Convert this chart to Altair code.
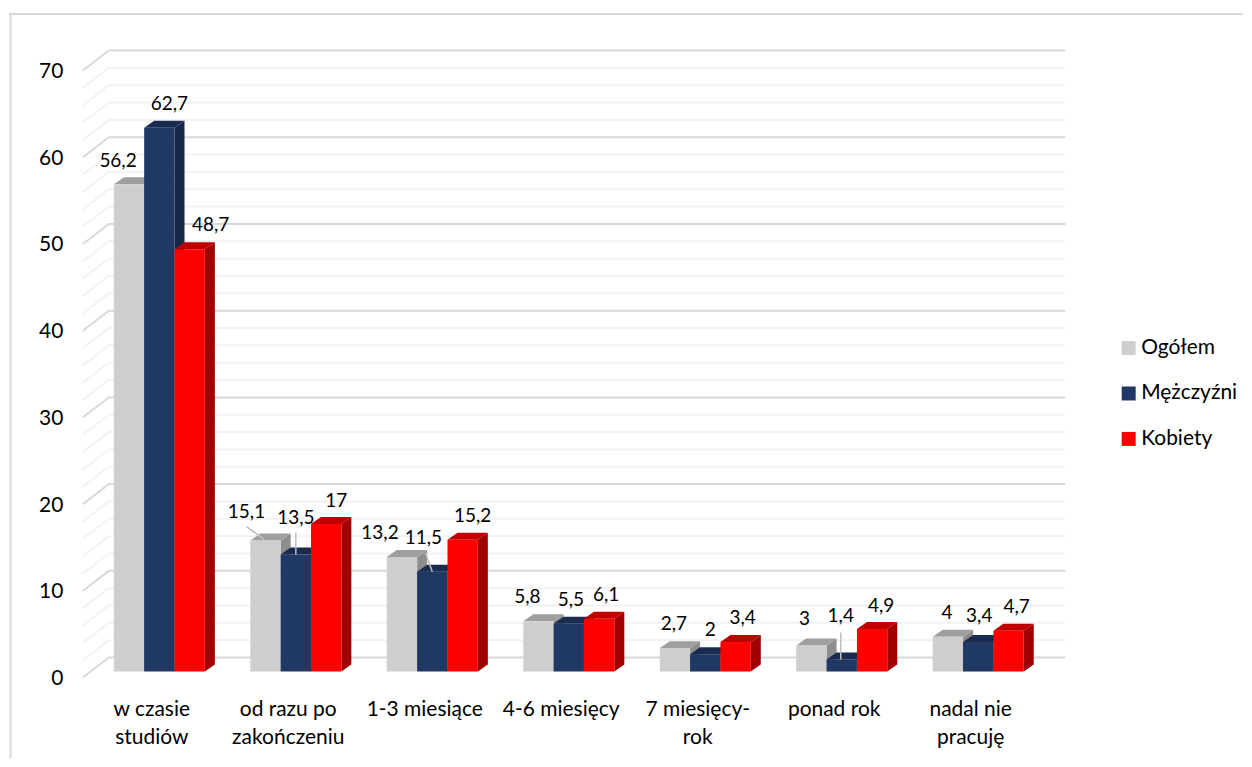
import altair as alt
import pandas as pd

# ---- data ----
categories = ["w czasie\nstudiów", "od razu po\nzakończeniu", "1-3 miesiące", "4-6 miesięcy",
              "7 miesięcy-\nrok", "ponad rok", "nadal nie\npracuję"]
series_names = ["Ogółem", "Mężczyźni", "Kobiety"]
ogolem = [56.2, 15.1, 13.2, 5.8, 2.7, 3, 4]
mezczyzni = [62.7, 13.5, 11.5, 5.5, 2, 1.4, 3.4]
kobiety = [48.7, 17, 15.2, 6.1, 3.4, 4.9, 4.7]
y_ticks = [0, 10, 20, 30, 40, 50, 60, 70]
series_values = [ogolem, mezczyzni, kobiety]

# ---- styling ----
FRONT = ["#CFCDCE", "#1F3864", "#FF0000"]
TOP = ["#A09F9F", "#192C50", "#C00000"]
SIDE = ["#8F8E8E", "#16284A", "#A00000"]
FONT = "Lato"
FS = 21

# ---- scale geometry (pixels per data unit, oblique projection) ----
W, H = 1236, 751
PXX, PXY = 136.7, 8.686          # px per category slot / per value unit
X0_PAGE, Y0_VIEW = 91, 670       # where slot 0 and value 0 fall
x_dom = [(8 - X0_PAGE) / PXX, (8 + W - X0_PAGE) / PXX]
y_dom = [(Y0_VIEW - H) / PXY, Y0_VIEW / PXY]
ux = lambda px: px / PXX
uy = lambda px: px / PXY

BAR_W = ux(30.4)
GROUP_PAD = ux(22)
BASE = uy(6)
DEPTH_X, DEPTH_Y = ux(10), uy(7)
WALL_X, WALL_Y = ux(26), uy(20)
GRID_L = ux(82 - X0_PAGE)
GRID_R = ux(1066 - X0_PAGE)

xs = alt.Scale(domain=x_dom, nice=False, zero=False)
ys = alt.Scale(domain=y_dom, nice=False, zero=False)
y_axis = alt.Axis(values=y_ticks, grid=False, domain=False, ticks=False, title=None, labelFont=FONT,
                  labelFontSize=FS, labelColor="#000000", labelPadding=4, offset=-58, labelOffset=1)
X = lambda f: alt.X(f"{f}:Q", scale=xs, axis=None)
Y = lambda f: alt.Y(f"{f}:Q", scale=ys, axis=y_axis, stack=None)

layers = []

# frame
frame_df = pd.DataFrame({"a": [0]})
layers.append(alt.Chart(frame_df).mark_rule(color="#D9D9D9", strokeWidth=2).encode(
    x=alt.value(0), x2=alt.value(W), y=alt.value(5.3)))
layers.append(alt.Chart(frame_df).mark_rule(color="#D9D9D9", strokeWidth=2).encode(
    x=alt.value(1.5), y=alt.value(5), y2=alt.value(H)))

# wall gridlines with the slanted return
grid_rows = []
for k in range(0, 36):
    v = k * 2
    major = v % 10 == 0
    for xx, vv in [(GRID_L, v), (GRID_L + WALL_X, v + WALL_Y), (GRID_R, v + WALL_Y)]:
        grid_rows.append({"x": xx, "y": vv, "tick": v, "major": major})
grid = pd.DataFrame(grid_rows)
layers.append(alt.Chart(grid[~grid.major]).mark_line(color="#F2F2F2", strokeWidth=2).encode(
    x=X("x"), y=Y("y"), detail="tick:N", order="x:Q"))
layers.append(alt.Chart(grid[grid.major]).mark_line(color="#D9D9D9", strokeWidth=2).encode(
    x=X("x"), y=Y("y"), detail="tick:N", order="x:Q"))


def left(i, j):
    return i + GROUP_PAD + j * BAR_W


for j, (name, vals) in enumerate(zip(series_names, series_values)):
    side_rows, top_rows, front_rows = [], [], []
    for i, v in enumerate(vals):
        x0 = left(i, j)
        x1 = x0 + BAR_W
        t = v + BASE
        side_rows += [{"x": x1, "lo": BASE, "hi": t, "g": i},
                      {"x": x1 + DEPTH_X, "lo": BASE + DEPTH_Y, "hi": t + DEPTH_Y, "g": i}]
        top_rows += [{"x": x0, "lo": t, "hi": t, "g": i},
                     {"x": x0 + DEPTH_X, "lo": t, "hi": t + DEPTH_Y, "g": i},
                     {"x": x1, "lo": t, "hi": t + DEPTH_Y, "g": i},
                     {"x": x1 + DEPTH_X, "lo": t + DEPTH_Y, "hi": t + DEPTH_Y, "g": i}]
        front_rows.append({"x0": x0, "x1": x1, "lo": BASE, "hi": t, "series": name})
    for rows, col in ((side_rows, SIDE[j]), (top_rows, TOP[j])):
        layers.append(alt.Chart(pd.DataFrame(rows)).mark_area(color=col, orient="vertical", opacity=1).encode(
            x=X("x"), y=Y("lo"), y2="hi:Q", detail="g:N"))
    layers.append(alt.Chart(pd.DataFrame(front_rows)).mark_rect().encode(
        x=X("x0"), x2="x1:Q", y=Y("lo"), y2="hi:Q",
        color=alt.Color("series:N", scale=alt.Scale(domain=series_names, range=FRONT),
                        legend=alt.Legend(title=None, orient="none", legendX=1111, legendY=329.5,
                                          symbolType="square", symbolSize=196, symbolStrokeWidth=0,
                                          symbolOpacity=1, labelFont=FONT, labelFontSize=FS, labelColor="#000000",
                                          rowPadding=23.5, labelOffset=2))))

# label placement relative to each bar's top-centre, in px (x, y up negative)
label_nudge = [
    [(-11, -23), (-19, -29), (-22, -24), (-11, -24), (-1, -24), (-7, -27), (-1, -24)],
    [(10, -24), (0, -37), (-9, -34), (2, -24), (5, -24), (-1, -43), (1, -26)],
    [(21, -24), (10, -23), (10, -24), (7, -24), (7, -24), (9, -23), (8, -24)],
]
label_rows = []
for j, vals in enumerate(series_values):
    for i, v in enumerate(vals):
        dx, dy = label_nudge[j][i]
        label_rows.append({"x": left(i, j) + BAR_W / 2 + ux(dx), "y": v + BASE - uy(dy),
                           "t": str(v).replace(".", ",")})

# leader lines
leaders = [(1, 0, -19, -14, -1, -1), (1, 1, 0, -22, 0, 0), (2, 1, -7, -19, 0, 0), (5, 1, -1, -27, -1, 0)]
lead_rows = []
for n, (i, j, a, b, c, d) in enumerate(leaders):
    v = series_values[j][i] + BASE
    cx = left(i, j) + BAR_W / 2
    lead_rows.append({"x": cx + ux(a), "y": v - uy(b), "x2": cx + ux(c), "y2": v - uy(d)})
layers.append(alt.Chart(pd.DataFrame(lead_rows)).mark_rule(color="#BFBFBF", strokeWidth=1.5).encode(
    x=X("x"), x2="x2:Q", y=Y("y"), y2="y2:Q"))

layers.append(alt.Chart(pd.DataFrame(label_rows)).mark_text(
    font=FONT, fontSize=FS - 2, color="#000000", baseline="middle", align="center").encode(
    x=X("x"), y=Y("y"), text="t:N"))

# category labels
cat_df = pd.DataFrame({"x": [i + ux(60) for i in range(len(categories))], "t": categories})
layers.append(alt.Chart(cat_df).mark_text(
    font=FONT, fontSize=FS, color="#000000", baseline="top", align="center",
    lineBreak="\n", lineHeight=28).encode(
    x=X("x"), y=alt.value(692), text="t:N"))

chart = alt.layer(*layers).properties(
    width=W, height=H, padding=0, background="#FFFFFF"
).configure_view(stroke=None)

chart.save("out.html", embed_options={"renderer": "svg", "actions": False})
